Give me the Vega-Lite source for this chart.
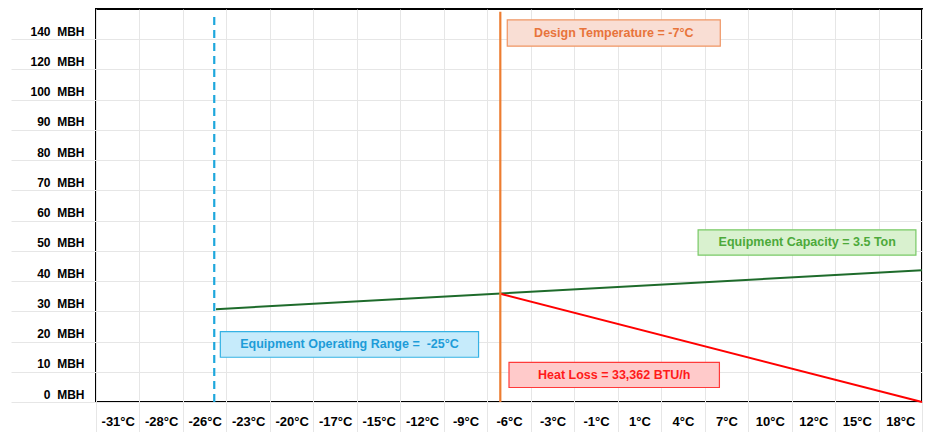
{
  "$schema": "https://vega.github.io/schema/vega-lite/v6.json",
  "width": 826,
  "height": 393,
  "autosize": {"type": "none"},
  "padding": {"left": 96, "top": 9, "right": 8, "bottom": 30},
  "background": "white",
  "config": {
    "font": "Liberation Sans",
    "view": {"stroke": "#000000", "strokeWidth": 2}
  },
  "datasets": {
    "lines": [
      {"series": "Equipment Capacity", "temp_F": -13.7, "mbh": 30.7},
      {"series": "Equipment Capacity", "temp_F": 67.5, "mbh": 43.6},
      {"series": "Heat Loss", "temp_F": 19.0, "mbh": 35.8},
      {"series": "Heat Loss", "temp_F": 67.5, "mbh": 0}
    ],
    "markers": [
      {"name": "Design Temperature", "temp_F": 19.0, "mbh": 0, "mbh_top": 129.1},
      {"name": "Operating Range", "temp_F": -13.9, "mbh": 0, "mbh_top": 128.7}
    ],
    "boxes": [
      {"key": "design", "temp_F": 19.8, "temp_F_end": 44.3, "mbh": 117.7, "mbh_top": 126.4},
      {"key": "capacity", "temp_F": 41.75, "temp_F_end": 66.8, "mbh": 48.6, "mbh_top": 56.95},
      {"key": "range", "temp_F": -13.2, "temp_F_end": 16.5, "mbh": 14.8, "mbh_top": 23.3},
      {"key": "loss", "temp_F": 20.0, "temp_F_end": 44.2, "mbh": 4.8, "mbh_top": 13.1}
    ],
    "labels": [
      {"key": "design", "text": "Design Temperature = -7°C", "temp_F": 32.05, "mbh": 122.05},
      {"key": "capacity", "text": "Equipment Capacity = 3.5 Ton", "temp_F": 54.3, "mbh": 52.8},
      {"key": "range", "text": "Equipment Operating Range = \u00a0-25°C", "temp_F": 1.65, "mbh": 19.05},
      {"key": "loss", "text": "Heat Loss = 33,362 BTU/h", "temp_F": 32.1, "mbh": 8.95}
    ]
  },
  "encoding": {
    "x": {
      "field": "temp_F", "type": "quantitative",
      "scale": {"domain": [-27.5, 67.5], "nice": false, "zero": false},
      "axis": {
        "title": null,
        "values": [-27.5, -22.5, -17.5, -12.5, -7.5, -2.5, 2.5, 7.5, 12.5, 17.5, 22.5, 27.5, 32.5, 37.5, 42.5, 47.5, 52.5, 57.5, 62.5, 67.5],
        "labelExpr": "datum.value > 65 ? '' : ((((datum.value + 2.5 - 32) * 5 / 9) < 0 ? ceil((datum.value + 2.5 - 32) * 5 / 9) : floor((datum.value + 2.5 - 32) * 5 / 9)) + '°C')",
        "domain": false,
        "grid": true,
        "gridColor": "#e6e6e6",
        "gridWidth": 1,
        "ticks": true,
        "tickSize": 30,
        "tickColor": "#e6e6e6",
        "tickWidth": 1,
        "labelOffset": 21.75,
        "labelPadding": -17,
        "labelBaseline": "top",
        "labelFontSize": 13,
        "labelFontWeight": "bold",
        "labelColor": "#000000",
        "labelFlush": false,
        "labelOverlap": false,
        "labelBound": false
      }
    },
    "y": {
      "field": "mbh", "type": "quantitative",
      "scale": {"domain": [0, 130], "nice": false, "zero": false},
      "axis": {
        "title": null,
        "values": [0, 10, 20, 30, 40, 50, 60, 70, 80, 90, 100, 110, 120],
        "labelExpr": "(datum.value <= 100 ? datum.value : datum.value * 2 - 100) + '\u00a0 MBH'",
        "domain": false,
        "grid": true,
        "gridColor": "#e6e6e6",
        "gridWidth": 1,
        "ticks": true,
        "tickSize": 85,
        "tickColor": "#e6e6e6",
        "tickWidth": 1,
        "labelPadding": -73,
        "labelAlign": "right",
        "labelBaseline": "bottom",
        "labelOffset": -1,
        "labelFontSize": 12,
        "labelFontWeight": "bold",
        "labelColor": "#000000",
        "labelFlush": false,
        "labelOverlap": false,
        "labelBound": false
      }
    }
  },
  "layer": [
    {
      "data": {"name": "markers"},
      "transform": [{"filter": "datum.name === 'Operating Range'"}],
      "mark": {"type": "rule", "color": "#1ea7dc", "strokeWidth": 2.2, "strokeDash": [8, 5]},
      "encoding": {"y2": {"field": "mbh_top"}}
    },
    {
      "data": {"name": "lines"},
      "transform": [{"filter": "datum.series === 'Equipment Capacity'"}],
      "mark": {"type": "line", "color": "#1e6b2b", "strokeWidth": 2},
      "encoding": {}
    },
    {
      "data": {"name": "lines"},
      "transform": [{"filter": "datum.series === 'Heat Loss'"}],
      "mark": {"type": "line", "color": "#ff0000", "strokeWidth": 2},
      "encoding": {}
    },
    {
      "data": {"name": "markers"},
      "transform": [{"filter": "datum.name === 'Design Temperature'"}],
      "mark": {"type": "rule", "color": "#ed7d31", "strokeWidth": 2.2},
      "encoding": {"y2": {"field": "mbh_top"}}
    },
    {
      "data": {"name": "boxes"},
      "mark": {"type": "rect", "strokeWidth": 1.2},
      "encoding": {
        "x2": {"field": "temp_F_end"},
        "y2": {"field": "mbh_top"},
        "fill": {
          "field": "key", "type": "nominal", "legend": null,
          "scale": {"domain": ["design", "capacity", "range", "loss"], "range": ["#f9ded4", "#d9f1cf", "#c6ebfb", "#ffcaca"]}
        },
        "stroke": {
          "field": "key", "type": "nominal", "legend": null,
          "scale": {"domain": ["design", "capacity", "range", "loss"], "range": ["#ef9563", "#78c965", "#35b2e4", "#ff3a3a"]}
        }
      }
    },
    {
      "data": {"name": "labels"},
      "mark": {"type": "text", "fontSize": 12.5, "fontWeight": "bold", "align": "center", "baseline": "middle"},
      "encoding": {
        "text": {"field": "text", "type": "nominal"},
        "color": {
          "field": "key", "type": "nominal", "legend": null,
          "scale": {"domain": ["design", "capacity", "range", "loss"], "range": ["#e8743b", "#4ca93a", "#1d9cd8", "#ff1a1a"]}
        }
      }
    }
  ]
}
